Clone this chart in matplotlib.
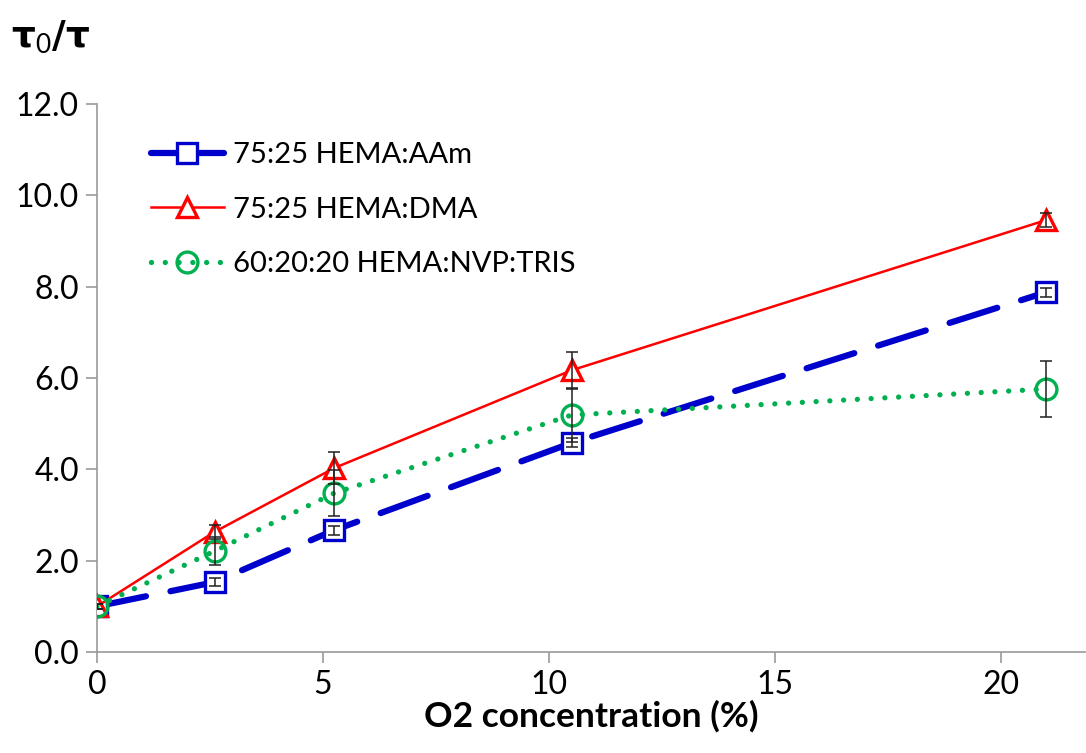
import numpy as np
import matplotlib.pyplot as plt
from matplotlib.lines import Line2D

plt.rcParams['font.family'] = ['Lato', 'DejaVu Sans']

# O2 concentration (%)
o2 = [0, 2.6, 5.25, 10.5, 21]

# tau0/tau for each composition
aam = [1.0, 1.53, 2.67, 4.58, 7.88]
aam_err = [0.05, 0.08, 0.1, 0.1, 0.1]
dma = [1.0, 2.63, 4.03, 6.17, 9.46]
dma_err = [0.05, 0.15, 0.35, 0.4, 0.15]
nvp = [1.0, 2.21, 3.48, 5.19, 5.76]
nvp_err = [0.05, 0.3, 0.5, 0.6, 0.62]

labels = ['75:25 HEMA:AAm', '75:25 HEMA:DMA', '60:20:20 HEMA:NVP:TRIS']

fig = plt.figure(figsize=(10.86, 7.53), dpi=100)
ax = fig.add_axes([0.0893, 0.1341, 0.9097, 0.7278])

sq = dict(color='#0000CC', lw=4.5, marker='s', ms=14, mfc='white', mec='#0000CC', mew=2.4,
          solid_capstyle='round', dash_capstyle='round')
tri = dict(color='#FF0000', lw=1.8, ls='-', marker='^', ms=15, mfc='white', mec='#FF0000', mew=2.4)
circ = dict(color='#00B050', lw=3.8, ls=(0, (0.01, 2.6)), dash_capstyle='round',
            marker='o', ms=15, mfc='none', mec='#00B050', mew=2.4)

ax.plot(o2, aam, ls=(0, (8, 4)), zorder=3, **sq)
ax.plot(o2, dma, zorder=4, **tri)
ax.plot(o2, nvp, zorder=5, **circ)

ekw = dict(fmt='none', ecolor='#202020', elinewidth=1.1, capsize=4.5, capthick=1.1, zorder=6)
ax.errorbar(o2, aam, yerr=aam_err, **ekw)
ax.errorbar(o2, dma, yerr=dma_err, **ekw)
ax.errorbar(o2, nvp, yerr=nvp_err, **ekw)

ax.set_xlim(0, 21.85)
ax.set_ylim(0, 12)
ax.set_xticks([0, 5, 10, 15, 20])
ax.set_yticks(np.arange(0, 12.1, 2))
ax.set_yticklabels([f'{v:.1f}' for v in np.arange(0, 12.1, 2)])
ax.tick_params(labelsize=23, color='#999999', length=8, width=1.2, pad=5)

for s in ['top', 'right']:
    ax.spines[s].set_visible(False)
for s in ['left', 'bottom']:
    ax.spines[s].set_color('#999999')
    ax.spines[s].set_linewidth(1.2)

ax.set_xlabel('O2 concentration (%)', fontsize=25.5, fontweight='bold', labelpad=0)
fig.text(0.01, 0.937, r'$\mathbf{\tau}_\mathregular{0}\mathbf{/\tau}$', fontsize=27)

# legend shows a solid line for the dashed series, like the original
handles = [Line2D([], [], ls='-', **sq), Line2D([], [], **tri), Line2D([], [], **circ)]
ax.legend(handles, labels, loc='upper left', bbox_to_anchor=(0.037, 0.962), frameon=False,
          fontsize=21, handlelength=2.5, labelspacing=0.97, handletextpad=0.3,
          borderaxespad=0.2)

plt.savefig('out.png', dpi=100)
